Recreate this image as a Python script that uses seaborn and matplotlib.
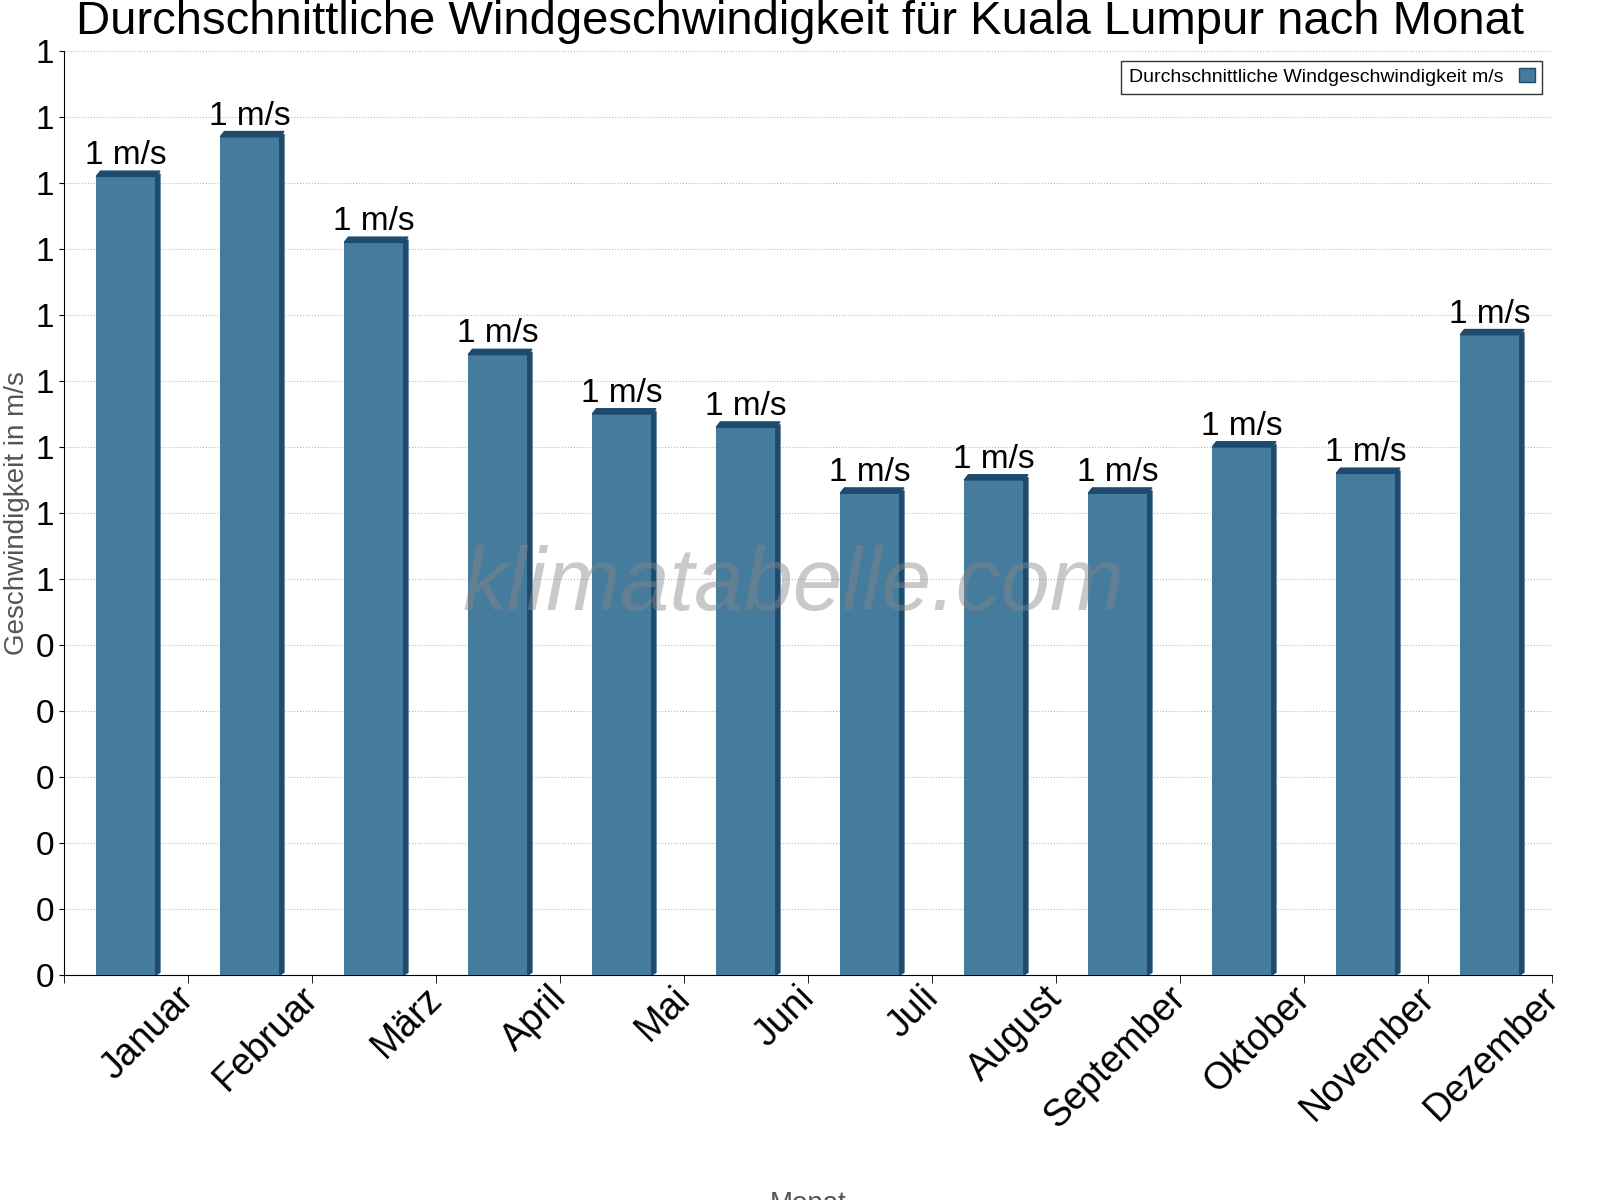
import matplotlib
matplotlib.use("Agg")
import matplotlib.pyplot as plt
import matplotlib.patches as mpatches
import matplotlib.transforms as mtrans
import seaborn as sns
import pandas as pd
import numpy as np

plt.rcParams["font.family"] = "Liberation Sans"

months = ["Januar","Februar","März","April","Mai","Juni","Juli","August","September","Oktober","November","Dezember"]
wind = [1.21,1.27,1.11,0.94,0.85,0.83,0.73,0.75,0.73,0.80,0.76,0.97]

df = pd.DataFrame({"Monat": months, "Wind": wind})
fig = plt.figure(figsize=(16,12), dpi=100)
ax = fig.add_axes([0.04, 0.1875, 0.93, 0.77])
sns.barplot(data=df, x="Monat", y="Wind", color="#457b9d", saturation=1, width=0.48, ax=ax, zorder=3)
side = "#1d4b6e"
for p in ax.patches:
    x0, w, h = p.get_x(), p.get_width(), p.get_height()
    d = w*0.07
    ax.add_patch(mpatches.Polygon([(x0+w,0),(x0+w+d,0.004),(x0+w+d,h+0.004),(x0+w,h)], closed=True, color=side, zorder=3))
    ax.add_patch(mpatches.Polygon([(x0,h),(x0+d,h+0.008),(x0+w+d,h+0.008),(x0+w,h)], closed=True, color=side, zorder=3))
    ax.text(x0+w/2, h+0.008, "1 m/s", ha="center", va="bottom", fontsize=24, zorder=4)
ax.set_xlim(-0.5, 11.5)
ax.set_ylim(0, 1.4)
ticks = np.arange(15)/10
ax.set_yticks(ticks)
ax.set_yticklabels([f"{t:.0f}" for t in ticks], fontsize=24)
ax.set_xticks(np.arange(-0.5, 12, 1), minor=True)
ax.tick_params(axis="x", which="major", length=0)
ax.tick_params(axis="x", which="minor", length=6)
ax.set_xticklabels(months, rotation=45, ha="right", rotation_mode="anchor", fontsize=27)
off = mtrans.ScaledTranslation(0.5, 0, fig.dpi_scale_trans)
for lbl in ax.get_xticklabels():
    lbl.set_transform(lbl.get_transform() + off)
ax.grid(axis="y", linestyle=":", color="#bbbbbb", zorder=0)
for s in ["top","right"]:
    ax.spines[s].set_visible(False)
ax.set_xlabel("Monat", fontsize=20, color="#555555", labelpad=40)
ax.set_ylabel("Geschwindigkeit in m/s", fontsize=20, color="#555555")
fig.text(0.5, 0.982, "Durchschnittliche Windgeschwindigkeit für Kuala Lumpur nach Monat", ha="center", va="center", fontsize=34)
ax.text(0.49, 0.42, "klimatabelle.com", transform=ax.transAxes, ha="center", va="center", fontsize=64, style="italic", color="#888888", alpha=0.45, zorder=5)
handle = mpatches.Patch(facecolor="#457b9d", edgecolor="#1d4b6e")
leg = ax.legend([handle], ["Durchschnittliche Windgeschwindigkeit m/s"], loc="upper right", fontsize=14, fancybox=False, edgecolor="black", markerfirst=False, handlelength=0.8)
fig.savefig("out.png")
